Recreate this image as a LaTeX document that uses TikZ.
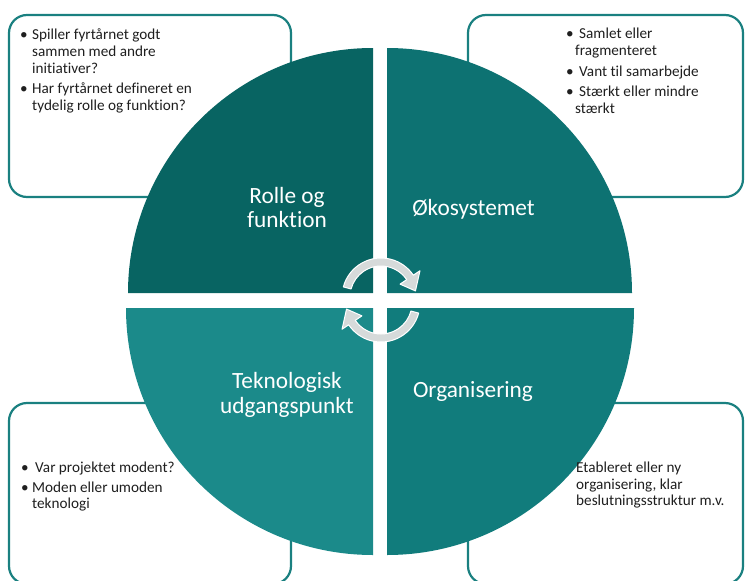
\documentclass[tikz,border=0pt]{standalone}
\usepackage{fontspec}
\setmainfont{Carlito}[Ligatures={NoCommon}]
\usetikzlibrary{calc}
\definecolor{qtl}{HTML}{086462}
\definecolor{qtr}{HTML}{0D7272}
\definecolor{qbl}{HTML}{1B8A8A}
\definecolor{qbr}{HTML}{117C7C}
\definecolor{boxc}{HTML}{1A8080}
\definecolor{txt}{HTML}{1F1F1F}
\definecolor{arrc}{HTML}{D6DADA}
\newcommand\mybody{\fontsize{15.2}{17}\selectfont}
\newcommand\mybig{\fontsize{23.3}{25}\selectfont}
\tikzset{
  body/.style={font=\mybody, text=txt, anchor=base west, inner sep=0pt},
  big/.style={font=\mybig, text=white, anchor=base, inner sep=0pt},
  bx/.style={draw=boxc, line width=2.2pt, rounded corners=18pt, fill=white},
  arr/.style={fill=arrc, draw=white, line width=1pt, line join=round},
}
\begin{document}
\begin{tikzpicture}[x=1pt,y=-1pt]
\useasboundingbox (0,0) rectangle (745,581);
% boxes
\draw[bx] (9,15) rectangle (291,197);
\draw[bx] (468,15) rectangle (743,197);
\draw[bx] (9,403) rectangle (291,584);
\draw[bx] (468,403) rectangle (743,584);
% quadrants
\fill[qtl] (373,293) -- ++(-245,0) arc[start angle=180,end angle=270,radius=245] -- cycle;
\fill[qtr] (387,293) -- ++(0,-245) arc[start angle=270,end angle=360,radius=245] -- cycle;
\fill[qbr] (387,308) -- ++(247,0) arc[start angle=0,end angle=90,radius=247] -- cycle;
\fill[qbl] (373,308) -- ++(0,247) arc[start angle=90,end angle=180,radius=247] -- cycle;
% circular arrows
\coordinate (cu) at (381,297);
\coordinate (cl) at (381,303);
\draw[arr] ($(cu)+(195:39)$) arc[start angle=195,end angle=326,radius=39]
  -- ($(cu)+(326:47)$) -- ($(cu)+(350:35)$) -- ($(cu)+(326:23)$) -- ($(cu)+(326:31)$)
  arc[start angle=326,end angle=195,radius=31] -- cycle;
\draw[arr] ($(cl)+(15:39)$) arc[start angle=15,end angle=146,radius=39]
  -- ($(cl)+(146:47)$) -- ($(cl)+(170:35)$) -- ($(cl)+(146:23)$) -- ($(cl)+(146:31)$)
  arc[start angle=146,end angle=15,radius=31] -- cycle;
% quadrant labels
\node[big] (rolle1) at (287,203) {Rolle og};
\node[big] (rolle2) at (287,227) {funktion};
\node[big] (oko) at (473.5,215) {Økosystemet};
\node[big] (tek1) at (287,388) {Teknologisk};
\node[big] (tek2) at (287,413) {udgangspunkt};
\node[big] (org) at (473,397) {Organisering};
% top-left box text
\node[body] (b1) at (20,39) {•};
\node[body] (l1) at (32,39) {Spiller fyrtårnet godt};
\node[body] (l2) at (32,56) {sammen med andre};
\node[body] (l3) at (32,73) {initiativer?};
\node[body] (b2) at (20,93) {•};
\node[body] (l4) at (32,93) {Har fyrtårnet defineret en};
\node[body] (l5) at (32,110) {tydelig rolle og funktion?};
% top-right box text
\node[body] (b3) at (566,38) {•};
\node[body] (r1) at (579,38) {Samlet eller};
\node[body] (r2) at (575,55) {fragmenteret};
\node[body] (b4) at (566,76) {•};
\node[body] (r3) at (579,76) {Vant til samarbejde};
\node[body] (b5) at (566,96) {•};
\node[body] (r4) at (579,96) {Stærkt eller mindre};
\node[body] (r5) at (575,113) {stærkt};
% bottom-left box text
\node[body] (b6) at (21,472) {•};
\node[body] (s1) at (35,472) {Var projektet modent?};
\node[body] (b7) at (21,492) {•};
\node[body] (s2) at (32,492) {Moden eller umoden};
\node[body] (s3) at (32,508) {teknologi};
% bottom-right box text
\node[body] (o1) at (576,472) {Etableret eller ny};
\node[body] (o2) at (576,489) {organisering, klar};
\node[body] (o3) at (576,505) {beslutningsstruktur m.v.};
\end{tikzpicture}
\end{document}
